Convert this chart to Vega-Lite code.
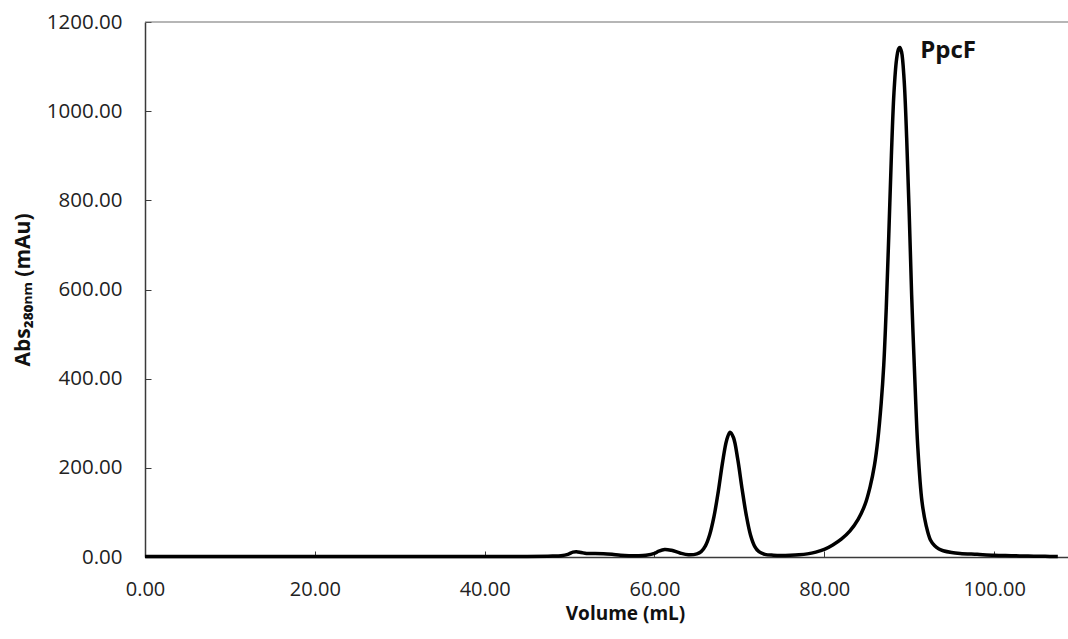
{
  "$schema": "https://vega.github.io/schema/vega-lite/v6.json",
  "width": 923,
  "height": 535,
  "autosize": {"type": "none"},
  "padding": {"left": 145, "top": 22, "right": 0, "bottom": 82},
  "background": "white",
  "config": {
    "view": {"stroke": null},
    "font": "Open Sans"
  },
  "datasets": {
    "trace": [
      {"volume": 0, "abs": 1}, {"volume": 5, "abs": 1}, {"volume": 10, "abs": 1},
      {"volume": 20, "abs": 1}, {"volume": 30, "abs": 1}, {"volume": 40, "abs": 1},
      {"volume": 45, "abs": 1}, {"volume": 48, "abs": 2}, {"volume": 49, "abs": 3},
      {"volume": 49.8, "abs": 6}, {"volume": 50.4, "abs": 11}, {"volume": 50.8, "abs": 12},
      {"volume": 51.4, "abs": 10}, {"volume": 52, "abs": 8}, {"volume": 53, "abs": 8},
      {"volume": 54, "abs": 7.5}, {"volume": 55, "abs": 6}, {"volume": 56, "abs": 4},
      {"volume": 57, "abs": 3}, {"volume": 58, "abs": 3}, {"volume": 59, "abs": 4},
      {"volume": 60, "abs": 8}, {"volume": 60.5, "abs": 13}, {"volume": 61.2, "abs": 17},
      {"volume": 62, "abs": 15}, {"volume": 63, "abs": 9}, {"volume": 64, "abs": 5},
      {"volume": 65, "abs": 7}, {"volume": 65.5, "abs": 12}, {"volume": 66, "abs": 25},
      {"volume": 66.5, "abs": 50}, {"volume": 67, "abs": 90}, {"volume": 67.5, "abs": 145},
      {"volume": 68, "abs": 210}, {"volume": 68.5, "abs": 262}, {"volume": 68.9, "abs": 280},
      {"volume": 69.3, "abs": 268}, {"volume": 69.8, "abs": 220}, {"volume": 70.3, "abs": 155},
      {"volume": 70.8, "abs": 95}, {"volume": 71.3, "abs": 50}, {"volume": 71.8, "abs": 24},
      {"volume": 72.3, "abs": 12}, {"volume": 73, "abs": 6}, {"volume": 74, "abs": 4},
      {"volume": 75, "abs": 3.5}, {"volume": 76, "abs": 4}, {"volume": 77, "abs": 5},
      {"volume": 78, "abs": 7}, {"volume": 79, "abs": 11}, {"volume": 80, "abs": 17},
      {"volume": 81, "abs": 27}, {"volume": 82, "abs": 40}, {"volume": 83, "abs": 58},
      {"volume": 84, "abs": 85}, {"volume": 84.8, "abs": 118}, {"volume": 85.4, "abs": 158},
      {"volume": 85.9, "abs": 205}, {"volume": 86.3, "abs": 262}, {"volume": 86.7, "abs": 345},
      {"volume": 87, "abs": 430}, {"volume": 87.3, "abs": 560}, {"volume": 87.6, "abs": 725},
      {"volume": 87.9, "abs": 900}, {"volume": 88.2, "abs": 1040}, {"volume": 88.5, "abs": 1115},
      {"volume": 88.75, "abs": 1140}, {"volume": 88.9, "abs": 1143},
      {"volume": 89.1, "abs": 1133}, {"volume": 89.4, "abs": 1070}, {"volume": 89.7, "abs": 940},
      {"volume": 90, "abs": 770}, {"volume": 90.3, "abs": 580}, {"volume": 90.7, "abs": 380},
      {"volume": 91, "abs": 250}, {"volume": 91.5, "abs": 125}, {"volume": 92, "abs": 70},
      {"volume": 92.5, "abs": 38}, {"volume": 93, "abs": 25}, {"volume": 93.5, "abs": 18},
      {"volume": 94, "abs": 14}, {"volume": 95, "abs": 10}, {"volume": 96, "abs": 8},
      {"volume": 98, "abs": 6}, {"volume": 100, "abs": 4}, {"volume": 102, "abs": 3},
      {"volume": 104, "abs": 2}, {"volume": 106, "abs": 1.5}, {"volume": 107.5, "abs": 1}
    ],
    "topline": [{"abs": 1200}],
    "peaks": [{"volume": 91.3, "abs": 1119, "name": "PpcF"}]
  },
  "layer": [
    {
      "data": {"name": "topline"},
      "mark": {"type": "rule", "color": "#6e6e6e", "strokeWidth": 1.2},
      "encoding": {
        "y": {"field": "abs", "type": "quantitative", "scale": {"domain": [0, 1200]}}
      }
    },
    {
      "data": {"name": "trace"},
      "mark": {"type": "line", "color": "black", "strokeWidth": 3.5, "interpolate": "catmull-rom"},
      "encoding": {
        "x": {
          "field": "volume", "type": "quantitative",
          "scale": {"domain": [0, 108.7], "nice": false, "zero": true},
          "axis": {
            "title": "Volume (mL)",
            "values": [0, 20, 40, 60, 80, 100],
            "format": ".2f",
            "grid": false,
            "labelFlush": false,
            "domainColor": "#3a3a3a", "domainWidth": 1.5,
            "tickColor": "#3a3a3a", "tickSize": -6, "tickWidth": 1,
            "labelFontSize": 20, "labelColor": "#222222", "labelPadding": 28,
            "labelFont": "Open Sans",
            "titleFontSize": 19, "titleFontWeight": "bold", "titleColor": "#111111",
            "titleFont": "Open Sans",
            "titleX": 480, "titleY": 62, "titleAnchor": "middle", "titleBaseline": "alphabetic"
          }
        },
        "y": {
          "field": "abs", "type": "quantitative",
          "scale": {"domain": [0, 1200], "nice": false},
          "axis": {
            "title": "Abs₂₈₀ₙₘ (mAu)",
            "values": [0, 200, 400, 600, 800, 1000, 1200],
            "format": ".2f",
            "grid": false,
            "domainColor": "#3a3a3a", "domainWidth": 1.5,
            "tickColor": "#3a3a3a", "tickSize": -6, "tickWidth": 1,
            "labelFontSize": 20.5, "labelColor": "#222222", "labelPadding": 29,
            "labelFont": "Open Sans",
            "titleFontSize": 21, "titleFontWeight": "bold", "titleColor": "#111111",
            "titleFont": "Open Sans",
            "titleX": -122, "titleAnchor": "middle", "titleBaseline": "middle"
          }
        }
      }
    },
    {
      "data": {"name": "peaks"},
      "mark": {"type": "text", "align": "left", "baseline": "alphabetic", "fontSize": 24, "fontWeight": "bold", "font": "Open Sans", "color": "#111111"},
      "encoding": {
        "x": {"field": "volume", "type": "quantitative"},
        "y": {"field": "abs", "type": "quantitative"},
        "text": {"field": "name"}
      }
    }
  ]
}
